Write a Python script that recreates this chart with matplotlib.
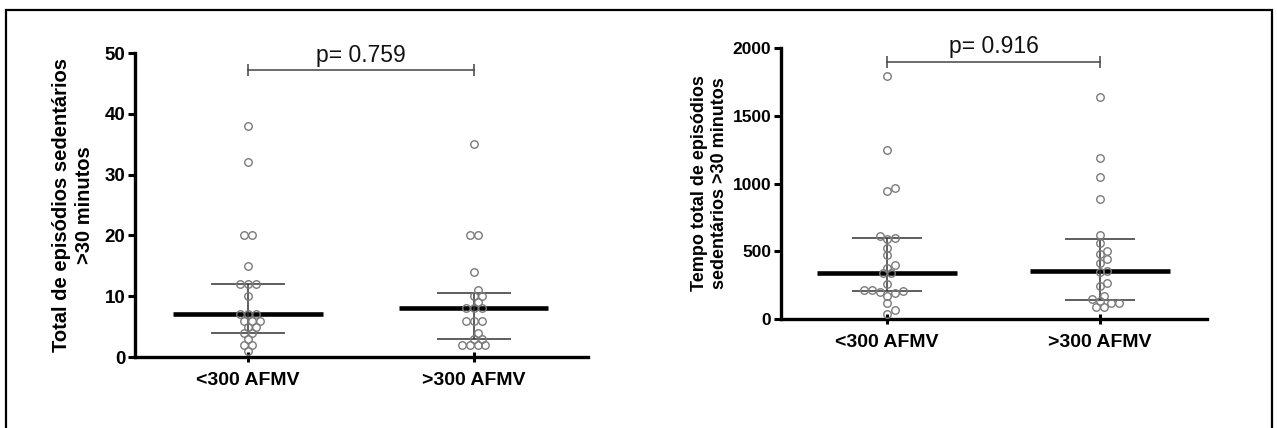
import numpy as np
import matplotlib
matplotlib.use('Agg')
import matplotlib.pyplot as plt
from matplotlib.patches import Rectangle

plt.rcParams['font.family'] = ['Liberation Sans', 'DejaVu Sans']
plt.rcParams['font.weight'] = 'bold'

# Dados
categorias = ['<300 AFMV', '>300 AFMV']

# Painel A: total de episódios sedentários >30 minutos
episodios_menos300 = [38, 32, 20, 20, 15, 12, 12, 12, 10, 7, 7, 7, 6, 6, 6, 5, 5, 4, 4, 3, 2, 2, 1]
episodios_mais300 = [35, 20, 20, 14, 11, 10, 10, 9, 8, 8, 8, 6, 6, 6, 4, 3, 3, 2, 2, 2, 2]
episodios_mediana = [7, 8]
episodios_q1 = [4, 3]
episodios_q3 = [12, 10.5]
episodios_p = 'p= 0.759'

# Painel B: tempo total de episódios sedentários >30 minutos
tempo_menos300 = [1790, 1250, 965, 945, 612, 600, 588, 525, 470, 400, 380, 340, 340,
                  260, 215, 215, 210, 200, 195, 170, 115, 70, 35]
tempo_mais300 = [1640, 1190, 1045, 885, 620, 560, 505, 480, 440, 410, 355, 350,
                 265, 240, 170, 145, 130, 120, 120, 90, 90]
tempo_mediana = [340, 355]
tempo_q1 = [210, 140]
tempo_q3 = [595, 590]
tempo_p = 'p= 0.916'


def posicoes_swarm(ax, centro, valores, d=7.7):
    # espalha os pontos na horizontal (em pixels) para não se sobreporem
    t = ax.transData
    px_x = t.transform([(1, 0)])[0][0] - t.transform([(0, 0)])[0][0]
    vals = np.asarray(valores, float)
    y_px = t.transform(np.column_stack([np.zeros_like(vals), vals]))[:, 1]
    xs = np.zeros_like(vals)
    colocados = []
    for v in sorted(set(vals)):
        idx = np.where(vals == v)[0]
        n = len(idx)
        base = (np.arange(n) - (n - 1) / 2) * d
        yv = y_px[idx[0]]
        for k in range(60):
            desloc = ((k + 1) // 2) * (d / 2) * (1 if k % 2 == 1 else -1)
            ok = True
            for bx in base + desloc:
                for (cx, cy) in colocados:
                    if np.hypot(bx - cx, yv - cy) < 0.85 * d:
                        ok = False
                        break
                if not ok:
                    break
            if ok:
                break
        for i, bx in zip(idx, base + desloc):
            xs[i] = centro + bx / px_x
            colocados.append((bx, yv))
    return xs


def painel(ax, grupos, mediana, q1, q3, ylim, yticks, ylabel, ylabel_x, ylabel_size,
           p_texto, p_y, yticksize):
    ax.set_xlim(0.5, 2.505)
    ax.set_ylim(*ylim)
    for s in ['top', 'right']:
        ax.spines[s].set_visible(False)
    for s in ['left', 'bottom']:
        ax.spines[s].set_linewidth(2.4)
    ax.set_yticks(yticks)
    ax.set_xticks([1, 2])
    ax.set_xticklabels(categorias)
    ax.tick_params(axis='y', direction='out', length=5, width=2.2, labelsize=yticksize, pad=2)
    ax.tick_params(axis='x', direction='inout', length=7, width=2.2, labelsize=14, pad=7)

    for i, vals in enumerate(grupos):
        x = i + 1
        xs = posicoes_swarm(ax, x, vals)
        ax.plot(xs, vals, 'o', mfc='none', mec='#7a7a7a', mew=1.0, ms=5.4, zorder=3,
                clip_on=False)
        ax.hlines(mediana[i], x - 0.33, x + 0.33, color='black', lw=3.3, zorder=2)
        ax.vlines(x, q1[i], q3[i], color='#333333', lw=1.1, zorder=2)
        ax.hlines([q1[i], q3[i]], x - 0.165, x + 0.165, color='#333333', lw=1.1, zorder=2)

    # barra de comparação com valor p
    ax.plot([1, 2], [p_y, p_y], color='#444444', lw=1.1, clip_on=False,
            marker='|', ms=8, mew=1.1)
    ax.annotate(p_texto, xy=(1.5, p_y), xytext=(0, 2.5), textcoords='offset points',
                ha='center', va='bottom', fontsize=16.5, fontweight='normal', color='#111111')

    ax.set_ylabel(ylabel, fontsize=ylabel_size, fontweight='bold', linespacing=1.25)
    ax.yaxis.set_label_coords(ylabel_x, 0.5)


W, H = 1277, 428
fig = plt.figure(figsize=(W / 100, H / 100), dpi=100)

ax1 = fig.add_axes([135 / W, 1 - 357 / H, (588 - 135) / W, (357 - 53) / H])
ax2 = fig.add_axes([781 / W, 1 - 319 / H, (1207 - 781) / W, (319 - 48) / H])

painel(ax1, [episodios_menos300, episodios_mais300], episodios_mediana, episodios_q1,
       episodios_q3, (0, 50), np.arange(0, 51, 10),
       'Total de episódios sedentários\n>30 minutos', -0.09, 14.5, episodios_p, 47.2, 13.5)
painel(ax2, [tempo_menos300, tempo_mais300], tempo_mediana, tempo_q1, tempo_q3,
       (0, 2000), np.arange(0, 2001, 500),
       'Tempo total de episódios\nsedentários >30 minutos', -0.124, 13, tempo_p, 1897, 12.5)

# moldura à volta da figura
fig.add_artist(Rectangle((6 / W, -0.05), (1272 - 6) / W, 1.05 - 10 / H,
                         transform=fig.transFigure, fill=False, edgecolor='black', lw=1.6))

fig.savefig('out.png', dpi=100)
